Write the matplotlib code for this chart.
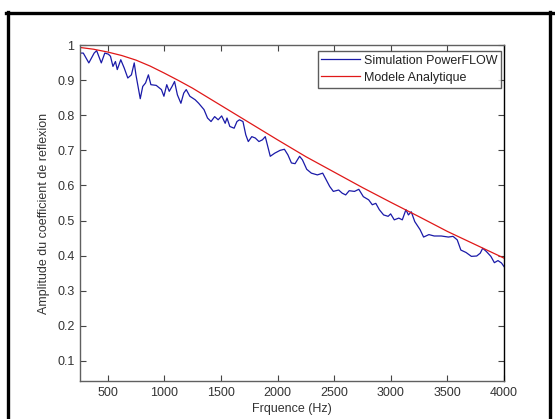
import matplotlib
matplotlib.use("Agg")
import matplotlib.pyplot as plt
from matplotlib.lines import Line2D

# Modele analytique (courbe lisse)
freq_model = [256, 375, 500, 625, 750, 875, 1000, 1125, 1250, 1500, 1750,
              2000, 2250, 2500, 2750, 3000, 3250, 3500, 3750, 4000]
amp_model = [0.993, 0.988, 0.980, 0.970, 0.957, 0.940, 0.920, 0.899, 0.877,
             0.828, 0.779, 0.730, 0.682, 0.638, 0.594, 0.552, 0.511, 0.469,
             0.431, 0.393]

# Simulation PowerFLOW
freq_sim = [256, 285, 334, 381, 403, 444, 475, 506, 525, 547, 569, 585, 616,
            647, 678, 710, 735, 750, 788, 810, 835, 860, 882, 929, 975, 997,
            1022, 1044, 1069, 1091, 1116, 1147, 1172, 1194, 1226, 1273, 1304,
            1351, 1382, 1413, 1445, 1476, 1507, 1538, 1554, 1579, 1617, 1642,
            1664, 1695, 1720, 1742, 1773, 1804, 1836, 1867, 1892, 1914, 1936,
            1976, 2023, 2061, 2092, 2123, 2155, 2195, 2220, 2258, 2299, 2352,
            2399, 2430, 2461, 2493, 2540, 2571, 2602, 2633, 2680, 2718, 2758,
            2805, 2837, 2868, 2899, 2937, 2977, 2999, 3031, 3071, 3102, 3134,
            3156, 3181, 3212, 3259, 3290, 3337, 3384, 3446, 3509, 3550, 3587,
            3619, 3665, 3712, 3759, 3790, 3812, 3844, 3884, 3915, 3947, 3978,
            4000]
amp_sim = [0.977, 0.977, 0.949, 0.977, 0.984, 0.949, 0.977, 0.974, 0.968,
           0.939, 0.953, 0.930, 0.958, 0.934, 0.906, 0.915, 0.949, 0.915,
           0.847, 0.882, 0.892, 0.915, 0.887, 0.885, 0.873, 0.854, 0.887,
           0.868, 0.882, 0.896, 0.858, 0.834, 0.863, 0.873, 0.854, 0.844,
           0.834, 0.816, 0.792, 0.782, 0.796, 0.787, 0.798, 0.777, 0.792,
           0.768, 0.763, 0.782, 0.787, 0.782, 0.744, 0.725, 0.739, 0.735,
           0.725, 0.730, 0.739, 0.711, 0.683, 0.692, 0.700, 0.703, 0.687,
           0.664, 0.662, 0.683, 0.673, 0.646, 0.635, 0.630, 0.635, 0.616,
           0.597, 0.583, 0.587, 0.578, 0.573, 0.585, 0.583, 0.589, 0.568,
           0.559, 0.545, 0.549, 0.531, 0.516, 0.512, 0.519, 0.502, 0.507,
           0.502, 0.531, 0.516, 0.525, 0.497, 0.474, 0.453, 0.460, 0.456,
           0.456, 0.453, 0.455, 0.445, 0.416, 0.409, 0.398, 0.399, 0.407,
           0.421, 0.412, 0.398, 0.380, 0.386, 0.379, 0.369]

xticks = [500, 1000, 1500, 2000, 2500, 3000, 3500, 4000]
yticks = [0.1, 0.2, 0.3, 0.4, 0.5, 0.6, 0.7, 0.8, 0.9, 1]
ytick_labels = ['0.1', '0.2', '0.3', '0.4', '0.5', '0.6', '0.7', '0.8', '0.9', '1']

plt.rcParams['font.family'] = ['Liberation Sans', 'DejaVu Sans']

fig = plt.figure(figsize=(5.55, 4.19), dpi=100)
ax = fig.add_axes([80 / 555, 1 - 381 / 419, 424 / 555, 336 / 419])

ax.plot(freq_sim, amp_sim, color='#1a1aa8', linewidth=0.9, label='Simulation PowerFLOW')
ax.plot(freq_model, amp_model, color='#e01818', linewidth=0.9, label='Modele Analytique')

ax.set_xlim(256, 4000)
ax.set_ylim(0.043, 1)
ax.set_xticks(xticks)
ax.set_yticks(yticks)
ax.set_yticklabels(ytick_labels)
ax.tick_params(direction='in', length=4, width=0.8, top=True, right=True,
               labelsize=9, labelcolor='#333333', color='#444444', pad=4)

for side in ['left', 'bottom', 'top']:
    ax.spines[side].set_color('#606060')
ax.spines['right'].set_color('black')
for s in ax.spines.values():
    s.set_linewidth(1.0)

ax.set_xlabel('Frquence (Hz)', fontsize=9, color='#333333', labelpad=3)
ax.set_ylabel('Amplitude du coefficient de reflexion', fontsize=9, color='#333333', labelpad=5)

leg = ax.legend(loc='upper right', bbox_to_anchor=(0.993, 0.982), borderaxespad=0,
                fontsize=9, frameon=True, fancybox=False, handlelength=3.1,
                handletextpad=0.3, borderpad=0.3, labelspacing=0.4)
leg.get_frame().set_edgecolor('#333333')
leg.get_frame().set_linewidth(1.0)
for t in leg.get_texts():
    t.set_color('#222222')

# cadre noir autour de la figure
W, H = 555, 419
fig.add_artist(Line2D([7.5 / W, 7.5 / W], [0, 1 - 12 / H], color='black', linewidth=2.4))
fig.add_artist(Line2D([6 / W, 1], [1 - 13.5 / H, 1 - 13.5 / H], color='black', linewidth=2.4))
fig.add_artist(Line2D([550 / W, 550 / W], [0, 1 - 12 / H], color='black', linewidth=2.4))

fig.savefig('out.png', dpi=100)
